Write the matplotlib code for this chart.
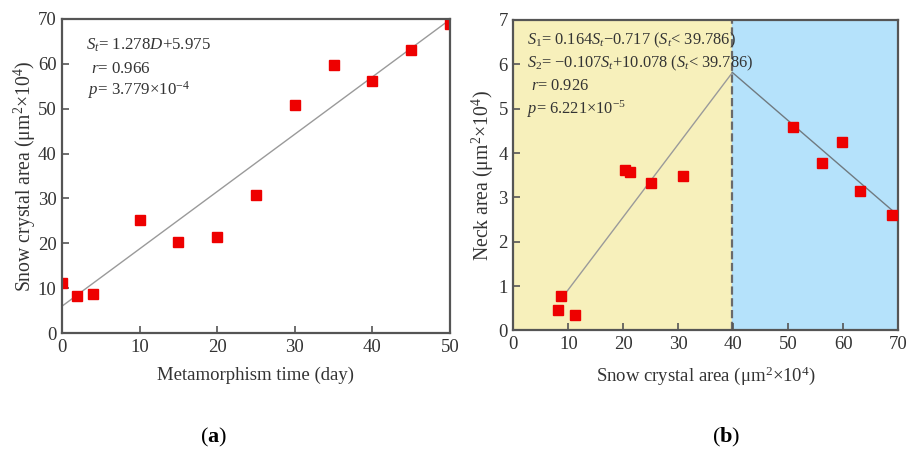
import numpy as np
import matplotlib
matplotlib.use('Agg')
import matplotlib.pyplot as plt
import matplotlib as mpl

# Data
days = [0, 2, 4, 10, 15, 20, 25, 30, 35, 40, 45, 50]
crystal_area = [11.2, 8.2, 8.7, 25.1, 20.3, 21.3, 30.8, 50.8, 59.8, 56.2, 63.1, 68.8]
neck_area = [0.35, 0.47, 0.77, 3.33, 3.61, 3.57, 3.49, 4.58, 4.24, 3.78, 3.15, 2.60]
# neck area is paired with crystal area of the same sample
neck_x = [11.2, 8.2, 8.7, 25.1, 20.3, 21.3, 30.8, 50.8, 59.8, 56.2, 63.1, 68.8]

# fit coefficients (from annotations)
fit_a = (1.278, 5.975)
fit_b1 = (0.164, -0.717)
fit_b2 = (-0.107, 10.078)
s_break = 39.786

# Styling
plt.rc('font', family='serif')
plt.rc('font', serif=['Liberation Serif', 'DejaVu Serif'])
mpl.rcParams['mathtext.fontset'] = 'custom'
mpl.rcParams['mathtext.rm'] = 'Liberation Serif'
mpl.rcParams['mathtext.it'] = 'Liberation Serif:italic'
mpl.rcParams['mathtext.bf'] = 'Liberation Serif:bold'

spine_c = '#555555'
text_c = '#333333'
line_c = '#9a9a9a'
fsize = 13.5
lsize = 14.2
tsize = 12.2


def style_axes(ax):
    for s in ax.spines.values():
        s.set_color(spine_c)
        s.set_linewidth(1.6)
    ax.tick_params(direction='in', length=5, width=1.2, color=spine_c,
                   labelsize=fsize, labelcolor=text_c, pad=4)


fig = plt.figure(figsize=(9.1, 4.51), dpi=100)

# Panel (a)
ax1 = fig.add_axes([0.0681, 0.2616, 0.4264, 0.6963])
xx = np.array([0, 50])
ax1.plot(xx, fit_a[0] * xx + fit_a[1], '-', color=line_c, linewidth=1.0)
ax1.plot(days, crystal_area, 's', color='#ee0000', markersize=6.5)
ax1.set_xlim(0, 50)
ax1.set_ylim(0, 70)
ax1.set_xticks([0, 10, 20, 30, 40, 50])
ax1.set_yticks([0, 10, 20, 30, 40, 50, 60, 70])
style_axes(ax1)
ax1.set_xlabel('Metamorphism time (day)', fontsize=fsize, color=text_c, labelpad=8)
ax1.set_ylabel(r'Snow crystal area (μm$^2$×10$^4$)', fontsize=lsize, color=text_c, labelpad=0)
ax1.text(0.062, 0.917, r'$S_t$= 1.278$D$+5.975', transform=ax1.transAxes,
         fontsize=tsize, color=text_c, va='center')
ax1.text(0.074, 0.841, r'$r$= 0.966', transform=ax1.transAxes,
         fontsize=tsize, color=text_c, va='center')
ax1.text(0.066, 0.774, r'$p$= 3.779×10$^{-4}$', transform=ax1.transAxes,
         fontsize=tsize, color=text_c, va='center')

# Panel (b)
ax2 = fig.add_axes([0.5641, 0.2672, 0.4231, 0.6885])
ax2.axvspan(0, s_break, color='#f7f0bb', zorder=0)
ax2.axvspan(s_break, 70, color='#b5e2fb', zorder=0)
ax2.axvline(s_break, color='#6a6a6a', linestyle='--', linewidth=1.6, zorder=1)
x1 = np.array([8.6, s_break])
x2 = np.array([s_break, 68.8])
ax2.plot(x1, fit_b1[0] * x1 + fit_b1[1], '-', color=line_c, linewidth=1.0, zorder=2)
ax2.plot(x2, fit_b2[0] * x2 + fit_b2[1], '-', color='#707a80', linewidth=1.0, zorder=2)
ax2.plot(neck_x, neck_area, 's', color='#ee0000', markersize=6.5, zorder=3)
ax2.set_xlim(0, 70)
ax2.set_ylim(0, 7)
ax2.set_xticks([0, 10, 20, 30, 40, 50, 60, 70])
ax2.set_yticks([0, 1, 2, 3, 4, 5, 6, 7])
style_axes(ax2)
ax2.set_xlabel(r'Snow crystal area (μm$^2$×10$^4$)', fontsize=fsize, color=text_c, labelpad=8)
ax2.set_ylabel(r'Neck area (μm$^2$×10$^4$)', fontsize=lsize, color=text_c, labelpad=2)
ax2.text(0.035, 0.935, r'$S_1$= 0.164$S_t$−0.717 ($S_t$< 39.786)', transform=ax2.transAxes,
         fontsize=tsize - 0.4, color=text_c, va='center')
ax2.text(0.035, 0.860, r'$S_2$= −0.107$S_t$+10.078 ($S_t$< 39.786)', transform=ax2.transAxes,
         fontsize=tsize - 0.4, color=text_c, va='center')
ax2.text(0.045, 0.787, r'$r$= 0.926', transform=ax2.transAxes,
         fontsize=tsize - 0.4, color=text_c, va='center')
ax2.text(0.035, 0.712, r'$p$= 6.221×10$^{-5}$', transform=ax2.transAxes,
         fontsize=tsize - 0.4, color=text_c, va='center')

# Captions
fig.text(214 / 910, 1 - 437 / 451, r'($\mathbf{a}$)', fontsize=16, ha='center', va='center')
fig.text(726 / 910, 1 - 437 / 451, r'($\mathbf{b}$)', fontsize=16, ha='center', va='center')

plt.savefig('out.png', dpi=100)
plt.close()
